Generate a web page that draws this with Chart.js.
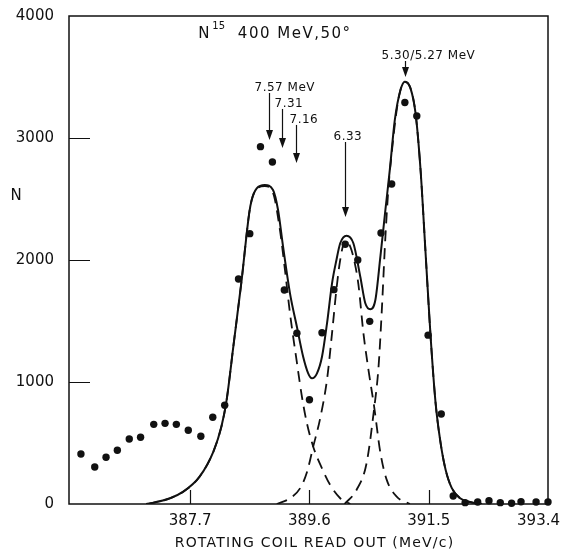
<!DOCTYPE html>
<html>
<head>
<meta charset="utf-8">
<script src="https://cdn.jsdelivr.net/npm/chart.js@4"></script>
<style>
  html, body { margin: 0; padding: 0; background: #fff; }
</style>
</head>
<body>
<canvas id="myChart" width="562" height="550"></canvas>
<script>
// measured counts (dots)
const dataX = [385.96, 386.18, 386.36, 386.54, 386.73, 386.91, 387.12, 387.30, 387.48, 387.67,
               387.87, 388.06, 388.25, 388.47, 388.65, 388.82, 389.01, 389.20, 389.40, 389.60,
               389.80, 389.99, 390.17, 390.37, 390.56, 390.74, 390.91, 391.12, 391.31, 391.49,
               391.70, 391.89, 392.08, 392.28, 392.46, 392.64, 392.82, 392.97, 393.21, 393.40];
const dataN = [410, 303, 383, 440, 533, 547, 653, 661, 653, 604,
               555, 711, 809, 1844, 2216, 2929, 2803, 1754, 1399, 855,
               1404, 1757, 2129, 2000, 1497, 2221, 2623, 3291, 3180, 1384,
               738, 66, 11, 16, 27, 11, 6, 19, 16, 16];

// total fit (solid line)
const fitX = [387.00, 387.06, 387.38, 387.59, 387.85, 388.07, 388.20, 388.28, 388.39, 388.52,
              388.64, 388.68, 388.76, 388.89, 389.02, 389.10, 389.18, 389.29, 389.40, 389.50,
              389.58, 389.64, 389.72, 389.80, 389.88, 389.96, 390.03, 390.09, 390.19, 390.30,
              390.41, 390.49, 390.57, 390.65, 390.73, 390.81, 390.88, 390.96, 391.05, 391.12,
              391.21, 391.29, 391.37, 391.45, 391.53, 391.61, 391.69, 391.77, 391.87, 392.00,
              392.16, 392.35];
const fitN = [0, 5, 47, 101, 224, 430, 640, 850, 1300, 1836,
              2383, 2492, 2588, 2615, 2574, 2410, 2109, 1727, 1453, 1207,
              1071, 1030, 1071, 1207, 1481, 1809, 2000, 2137, 2199, 2137,
              1863, 1645, 1596, 1672, 2027, 2410, 2738, 3148, 3394, 3462,
              3407, 3203, 2738, 2055, 1371, 825, 497, 279, 128, 47,
              16, 0];

// single peaks (dashed)
const peak1X = [387.00, 387.06, 387.38, 387.59, 387.85, 388.07, 388.20, 388.28, 388.39, 388.52,
                388.64, 388.68, 388.76, 388.89, 389.02, 389.13, 389.21, 389.29, 389.40, 389.48,
                389.56, 389.66, 389.80, 389.93, 390.09, 390.25];
const peak1N = [0, 5, 47, 101, 224, 430, 640, 850, 1300, 1836,
                2383, 2492, 2585, 2605, 2550, 2246, 1918, 1563, 1160, 880,
                661, 470, 292, 156, 47, 0];

const peak2X = [389.08, 389.29, 389.45, 389.56, 389.66, 389.77, 389.88, 389.96, 390.03, 390.09,
                390.17, 390.25, 390.32, 390.38, 390.46, 390.54, 390.63, 390.73, 390.83, 390.99, 391.20];
const peak2N = [0, 47, 128, 260, 470, 700, 1020, 1400, 1760, 2000,
                2160, 2110, 1980, 1800, 1400, 1100, 800, 420, 200, 60, 0];

const peak3X = [390.16, 390.35, 390.51, 390.63, 390.70, 390.75, 390.81, 390.86, 390.91, 390.99,
                391.05, 391.12, 391.21, 391.29, 391.37, 391.45, 391.53, 391.61, 391.69, 391.77,
                391.87, 392.00, 392.16, 392.35];
const peak3N = [0, 115, 334, 780, 1120, 1560, 2191, 2601, 2875, 3230,
                3394, 3462, 3407, 3203, 2738, 2055, 1371, 825, 497, 279,
                128, 47, 16, 0];

const xTicks = [387.7, 389.6, 391.5, 393.4];
const yTicks = [0, 1000, 2000, 3000, 4000];

// level markers
const arrowLabels = ['7.57 MeV', '7.31', '7.16', '6.33', '5.30/5.27 MeV'];
const arrowX      = [388.96, 389.17, 389.38, 390.16, 391.12];
const arrowTail   = [3369, 3238, 3107, 2967, 3631];
const arrowTip    = [2984, 2918, 2795, 2353, 3500];

const pts = (xs, ys) => xs.map((v, i) => ({x: v, y: ys[i]}));
const ink = '#111';
const face = '"DejaVu Sans", sans-serif';

const labelShift = [-15, -8, -7, -12, -24];

const decor = {
  id: 'decor',
  afterDraw(chart) {
    const {ctx, chartArea: a, scales: {x, y}} = chart;
    ctx.save();
    ctx.strokeStyle = ink;
    ctx.fillStyle = ink;

    // frame + inward ticks
    ctx.lineWidth = 1.5;
    ctx.strokeRect(a.left, a.top, a.right - a.left, a.bottom - a.top);
    ctx.beginPath();
    yTicks.forEach(v => {
      if (v <= y.min || v >= y.max) return;
      const py = Math.round(y.getPixelForValue(v)) + 0.5;
      ctx.moveTo(a.left, py); ctx.lineTo(a.left + 21, py);
    });
    xTicks.forEach(v => {
      if (v >= x.max) return;
      const px = Math.round(x.getPixelForValue(v)) + 0.5;
      ctx.moveTo(px, a.bottom); ctx.lineTo(px, a.bottom - 14);
    });
    ctx.lineWidth = 1.2;
    ctx.stroke();

    // x tick labels
    ctx.font = '15px ' + face;
    ctx.textAlign = 'center';
    ctx.textBaseline = 'middle';
    xTicks.forEach(v => {
      const s = v.toFixed(1);
      const w = ctx.measureText(s).width;
      const px = Math.min(x.getPixelForValue(v), chart.width - w / 2 - 2);
      ctx.fillText(s, px, a.bottom + 17);
    });

    // axis titles
    ctx.font = '14px ' + face;
    ctx.letterSpacing = '1.2px';
    ctx.fillText('ROTATING COIL READ OUT (MeV/c)', (a.left + a.right) / 2 + 6, a.bottom + 39);
    ctx.letterSpacing = '0px';
    ctx.font = '15px ' + face;
    ctx.fillText('N', a.left - 53, y.getPixelForValue(2520));

    // heading
    ctx.textAlign = 'left';
    ctx.textBaseline = 'alphabetic';
    const hx = x.getPixelForValue(387.83), hy = y.getPixelForValue(3820);
    ctx.fillText('N', hx, hy);
    ctx.font = '10px ' + face;
    ctx.fillText('15', hx + 14, hy - 9);
    ctx.font = '15px ' + face;
    ctx.letterSpacing = '1.5px';
    ctx.fillText('400 MeV,50°', x.getPixelForValue(388.46), hy);

    // arrows
    ctx.font = '12px ' + face;
    ctx.letterSpacing = '0.5px';
    ctx.lineWidth = 1.2;
    arrowLabels.forEach((lab, i) => {
      const px = Math.round(x.getPixelForValue(arrowX[i])) + 0.5;
      const t0 = y.getPixelForValue(arrowTail[i]);
      const t1 = y.getPixelForValue(arrowTip[i]);
      ctx.fillText(lab, px + labelShift[i], t0 - 2);
      ctx.beginPath();
      ctx.moveTo(px, t0); ctx.lineTo(px, t1 - 6);
      ctx.stroke();
      ctx.beginPath();
      ctx.moveTo(px - 3.5, t1 - 10);
      ctx.lineTo(px + 3.5, t1 - 10);
      ctx.lineTo(px, t1);
      ctx.closePath();
      ctx.fill();
    });
    ctx.restore();
  }
};

const dashed = {
  showLine: true, pointRadius: 0, borderColor: ink, borderWidth: 1.8,
  borderDash: [11, 7], cubicInterpolationMode: 'monotone', fill: false
};

const ctx = document.getElementById('myChart');
new Chart(ctx, {
  type: 'scatter',
  data: {
    datasets: [
      { data: pts(dataX, dataN), pointRadius: 3.7, pointBackgroundColor: ink,
        pointBorderWidth: 0, showLine: false, clip: false },
      { data: pts(fitX, fitN), showLine: true, pointRadius: 0, borderColor: ink,
        borderWidth: 2, cubicInterpolationMode: 'monotone', fill: false },
      Object.assign({ data: pts(peak1X, peak1N) }, dashed),
      Object.assign({ data: pts(peak2X, peak2N) }, dashed),
      Object.assign({ data: pts(peak3X, peak3N) }, dashed)
    ]
  },
  options: {
    responsive: false,
    animation: false,
    events: [],
    layout: { padding: { left: 0, right: 14, top: 16, bottom: 0 } },
    plugins: { legend: { display: false }, tooltip: { enabled: false } },
    scales: {
      x: {
        type: 'linear', min: 385.77, max: 393.4,
        grid: { display: false }, border: { display: false },
        ticks: { display: false },
        afterBuildTicks: s => { s.ticks = xTicks.map(v => ({ value: v })); },
        afterFit: s => { s.height = 46; }
      },
      y: {
        min: 0, max: 4000,
        grid: { display: false }, border: { display: false },
        ticks: { stepSize: 1000, padding: 7, color: ink,
                 font: { family: 'DejaVu Sans', size: 15 },
                 callback: v => String(v) },
        afterBuildTicks: s => { s.ticks = yTicks.map(v => ({ value: v })); },
        afterFit: s => { s.width = 69; }
      }
    }
  },
  plugins: [decor]
});
</script>
</body>
</html>
